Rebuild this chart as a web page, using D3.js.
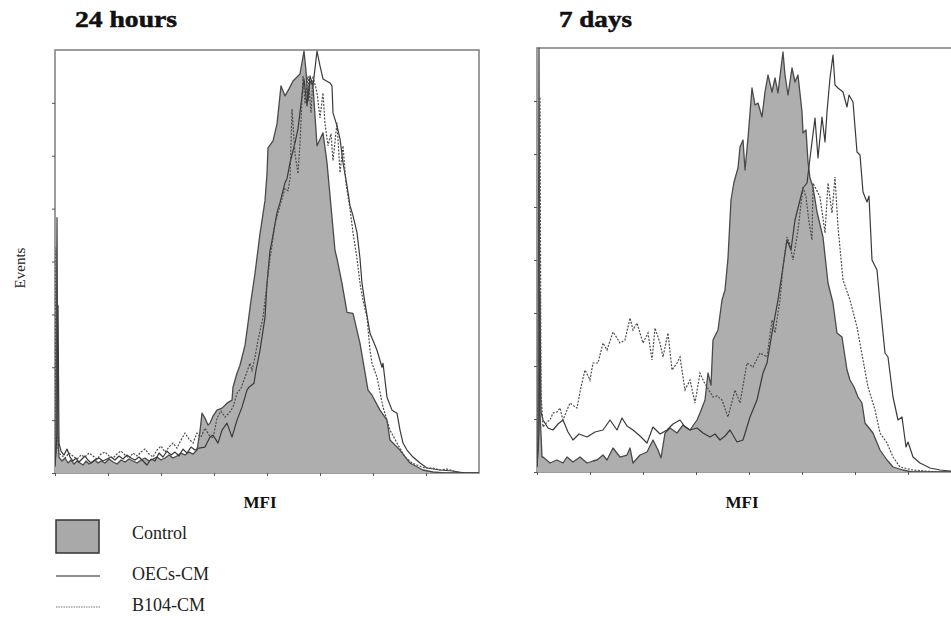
<!DOCTYPE html>
<html>
<head>
<meta charset="utf-8">
<script src="https://cdn.jsdelivr.net/npm/d3@7"></script>
<style>
  html, body { margin: 0; padding: 0; background: #fff; }
  svg { display: block; }
</style>
</head>
<body>
<svg id="chart" width="951" height="617"></svg>
<script>
// Flow cytometry histograms: events per fluorescence channel (MFI axis)

const panelTitles = ["24 hours", "7 days"];
const seriesNames = ["Control", "OECs-CM", "B104-CM"];
const axisLabelX = "MFI";
const axisLabelY = "Events";
const channelMax = 424;   // channel range shown on the MFI axis
const eventsMax = 424;    // events range shown on the y axis
const tickStep = 53;      // unlabeled tick spacing on both axes

// [channel, events] — 24 hours
const control24h = [[0,6],[1,30],[2,256],[3,40],[4,16],[7,12],[10,15],[13,10],[16,13],[19,9],[22,12],[25,10],[28,8],[31,12],[34,9],[37,11],[40,13],[43,10],[46,12],[50,10],[54,14],[58,11],[62,9],[66,13],[70,11],[74,14],[78,12],[82,10],[86,13],[90,15],[94,12],[98,14],[102,16],[106,13],[110,15],[114,18],[118,15],[122,17],[126,20],[130,18],[134,21],[138,19],[142,23],[145,42],[147,60],[150,55],[153,48],[155,50],[158,57],[162,63],[167,65],[172,70],[177,73],[178,86],[182,100],[185,108],[187,116],[190,128],[193,150],[196,173],[200,200],[205,240],[210,273],[212,300],[213,326],[218,333],[222,350],[226,388],[230,378],[234,385],[238,393],[245,400],[249,423],[251,403],[253,373],[255,393],[258,388],[262,328],[268,341],[272,311],[275,278],[280,223],[282,215],[287,190],[292,161],[298,160],[305,130],[313,83],[317,78],[325,63],[332,53],[335,33],[345,23],[355,10],[368,3],[378,1],[390,0],[424,0]];

const oecs24h = [[0,8],[1,20],[2,40],[3,168],[4,30],[6,22],[9,18],[12,24],[15,16],[18,12],[21,15],[24,11],[27,14],[30,17],[33,13],[36,10],[40,13],[44,15],[48,12],[52,14],[56,16],[60,13],[64,17],[68,14],[72,18],[76,15],[80,13],[84,16],[88,12],[92,8],[96,14],[100,12],[104,20],[108,16],[112,22],[116,18],[120,21],[124,17],[128,24],[132,20],[136,26],[140,23],[144,25],[150,26],[155,36],[158,38],[163,30],[167,43],[172,50],[177,36],[182,53],[187,66],[192,83],[194,86],[199,90],[201,103],[205,123],[210,156],[212,190],[215,223],[217,233],[222,261],[225,271],[230,291],[232,295],[235,311],[240,331],[243,345],[247,378],[249,395],[252,368],[255,398],[258,388],[262,423],[265,408],[268,395],[275,391],[277,388],[278,361],[282,348],[285,335],[288,311],[292,288],[295,268],[298,258],[302,241],[305,215],[307,190],[310,170],[315,140],[322,123],[327,106],[328,110],[332,76],[337,63],[342,60],[345,43],[348,30],[352,23],[358,16],[365,10],[372,5],[385,3],[398,2],[410,0],[424,0]];

const b104_24h = [[0,10],[1,226],[2,60],[3,25],[4,20],[6,18],[10,15],[14,20],[18,17],[22,14],[26,18],[30,16],[34,20],[38,17],[42,14],[46,19],[50,21],[54,17],[58,15],[62,19],[66,22],[70,18],[74,15],[78,20],[82,17],[86,21],[90,24],[94,19],[98,16],[102,23],[106,27],[110,21],[114,26],[118,30],[122,25],[126,33],[130,40],[134,34],[138,30],[142,40],[146,36],[150,45],[154,38],[158,35],[162,55],[166,62],[170,56],[174,60],[178,66],[182,80],[186,85],[190,96],[195,110],[197,103],[200,116],[203,133],[208,156],[212,190],[215,215],[217,228],[220,250],[225,268],[230,285],[233,283],[235,295],[237,365],[240,320],[243,300],[245,330],[248,398],[250,370],[253,398],[256,361],[258,398],[262,381],[265,356],[268,381],[270,350],[273,328],[276,340],[278,313],[282,351],[285,301],[288,328],[291,290],[295,265],[298,241],[302,215],[305,190],[308,173],[312,156],[315,123],[317,110],[322,96],[328,66],[332,53],[335,43],[342,30],[350,16],[357,10],[362,8],[370,5],[378,5],[385,3],[392,4],[398,2],[404,0],[424,0]];

// [channel, events] — 7 days
const control7d = [[0,5],[1,30],[2,424],[3,60],[5,15],[6,15],[13,9],[20,12],[26,9],[30,15],[36,10],[43,15],[50,9],[56,11],[60,12],[66,17],[70,12],[76,24],[83,15],[90,17],[93,24],[96,9],[103,17],[110,20],[116,32],[121,22],[124,14],[128,39],[133,44],[140,39],[146,47],[153,42],[160,52],[163,59],[168,72],[171,99],[174,87],[176,132],[181,142],[185,172],[188,182],[191,214],[194,272],[197,290],[201,304],[203,325],[206,332],[208,302],[211,334],[215,384],[218,367],[221,369],[225,355],[228,380],[231,397],[235,380],[238,394],[241,379],[244,404],[246,420],[248,397],[251,377],[255,404],[258,390],[261,397],[265,360],[266,339],[269,342],[271,310],[273,294],[276,285],[280,260],[286,235],[291,189],[296,169],[300,139],[305,135],[310,102],[313,92],[317,85],[321,75],[325,69],[328,49],[336,39],[343,22],[350,12],[356,5],[366,2],[375,0],[424,0]];

const oecs7d = [[0,5],[1,20],[2,40],[3,180],[4,60],[6,52],[11,44],[16,42],[21,48],[26,52],[31,40],[36,32],[42,38],[50,35],[58,40],[66,42],[73,52],[80,42],[85,54],[90,46],[96,42],[103,36],[110,29],[116,45],[123,38],[130,42],[136,48],[143,52],[148,45],[153,42],[160,44],[166,39],[173,35],[178,38],[183,32],[188,36],[193,42],[200,30],[206,32],[213,55],[220,72],[226,99],[230,109],[236,145],[241,172],[246,205],[250,232],[254,222],[258,252],[263,272],[266,284],[270,289],[273,314],[278,354],[281,314],[285,355],[288,330],[290,360],[293,394],[296,417],[298,387],[301,384],[306,380],[310,365],[312,377],[316,370],[320,320],[323,317],[326,280],[330,270],[332,276],[335,212],[340,202],[343,169],[348,119],[351,115],[356,75],[361,52],[365,55],[369,25],[371,30],[376,15],[383,9],[393,4],[403,2],[413,1],[424,0]];

const b104_7d = [[0,5],[1,40],[2,120],[3,375],[4,80],[6,45],[10,50],[13,52],[16,59],[20,60],[23,64],[26,52],[30,62],[33,69],[37,66],[40,64],[44,85],[48,102],[53,92],[56,109],[61,109],[66,129],[70,122],[76,140],[80,134],[83,129],[88,132],[93,154],[96,142],[100,149],[106,129],[111,139],[115,112],[118,144],[123,129],[126,115],[131,139],[135,102],[140,109],[143,115],[148,82],[153,92],[158,69],[163,99],[167,90],[170,85],[176,75],[180,76],[185,72],[191,55],[198,82],[203,69],[210,109],[216,105],[223,119],[230,115],[235,152],[238,139],[243,172],[246,205],[250,235],[253,227],[256,212],[261,242],[266,285],[269,275],[272,250],[275,232],[276,289],[283,275],[288,239],[291,289],[295,259],[298,295],[301,245],[306,192],[313,172],[320,145],[326,112],[331,85],[338,62],[343,39],[350,29],[356,15],[363,5],[376,2],[388,1],[400,0],[424,0]];

const panelSeries = [
  { control: control24h, oecs: oecs24h, b104: b104_24h },
  { control: control7d,  oecs: oecs7d,  b104: b104_7d }
];

// ---- layout & style ----
const serif = "'Liberation Serif', 'Times New Roman', Times, serif";
const panels = [
  { left: 55,  top: 50, width: 424, height: 423, titleX: 75,  titleLen: 102, mfiX: 260 },
  { left: 537, top: 48, width: 424, height: 424, titleX: 559, titleLen: 73,  mfiX: 742 }
];
const fillGray = "#aeaeae";
const lineDark = "#3a3a3a";
const frameGray = "#858585";

const svg = d3.select("#chart");

panels.forEach((p, i) => {
  const data = panelSeries[i];
  const x = d3.scaleLinear().domain([0, channelMax]).range([p.left, p.left + p.width]);
  const y = d3.scaleLinear().domain([0, eventsMax]).range([p.top + p.height, p.top]);
  const g = svg.append("g");

  // frame
  g.append("rect")
    .attr("x", p.left).attr("y", p.top)
    .attr("width", p.width).attr("height", p.height)
    .attr("fill", "#fff")
    .attr("stroke", frameGray).attr("stroke-width", 1.6);

  const clipId = "clip" + i;
  svg.append("clipPath").attr("id", clipId)
    .append("rect").attr("x", p.left).attr("y", p.top - 1)
    .attr("width", p.width).attr("height", p.height + 1);
  const plot = g.append("g").attr("clip-path", `url(#${clipId})`);

  const area = d3.area().x(d => x(d[0])).y0(y(0)).y1(d => y(d[1]));
  const line = d3.line().x(d => x(d[0])).y(d => y(d[1]));

  // Control: filled histogram
  plot.append("path").datum(data.control)
    .attr("d", area).attr("fill", fillGray).attr("stroke", "none");
  plot.append("path").datum(data.control)
    .attr("d", line).attr("fill", "none")
    .attr("stroke", "#4a4a4a").attr("stroke-width", 1.3).attr("stroke-linejoin", "round");

  // OECs-CM: solid outline
  plot.append("path").datum(data.oecs)
    .attr("d", line).attr("fill", "none")
    .attr("stroke", lineDark).attr("stroke-width", 1.2).attr("stroke-linejoin", "round");

  // B104-CM: dotted outline
  plot.append("path").datum(data.b104)
    .attr("d", line).attr("fill", "none")
    .attr("stroke", "#4d4d4d").attr("stroke-width", 1.2)
    .attr("stroke-dasharray", "2,1.4");

  // unlabeled ticks
  const ticks = d3.range(0, channelMax, tickStep);
  const xAxis = d3.axisBottom(x).tickValues(ticks).tickSize(3).tickFormat("");
  const yAxis = d3.axisLeft(y).tickValues(ticks).tickSize(3).tickFormat("");
  const gx = g.append("g").attr("transform", `translate(0,${p.top + p.height})`).call(xAxis);
  const gy = g.append("g").attr("transform", `translate(${p.left},0)`).call(yAxis);
  [gx, gy].forEach(a => {
    a.select(".domain").remove();
    a.selectAll(".tick line").attr("stroke", "#555").attr("stroke-width", 1);
  });

  // title
  g.append("text")
    .attr("x", p.titleX).attr("y", 27)
    .attr("font-family", serif).attr("font-weight", "bold").attr("font-size", 23)
    .attr("textLength", p.titleLen).attr("lengthAdjust", "spacingAndGlyphs")
    .attr("fill", "#111").attr("stroke", "#111").attr("stroke-width", 0.5)
    .text(panelTitles[i]);

  // x-axis label
  g.append("text")
    .attr("x", p.mfiX).attr("y", 508)
    .attr("text-anchor", "middle")
    .attr("font-family", serif).attr("font-weight", "bold").attr("font-size", 17)
    .attr("fill", "#111")
    .text(axisLabelX);
});

// y-axis label
svg.append("text")
  .attr("transform", "translate(25,268) rotate(-90)")
  .attr("text-anchor", "middle")
  .attr("font-family", serif).attr("font-size", 15)
  .attr("fill", "#222")
  .text(axisLabelY);

// legend
const legend = svg.append("g");
legend.append("rect")
  .attr("x", 56).attr("y", 520).attr("width", 43).attr("height", 33)
  .attr("fill", "#a9a9a9").attr("stroke", "#333").attr("stroke-width", 1.5);
legend.append("line")
  .attr("x1", 56).attr("x2", 100).attr("y1", 576).attr("y2", 576)
  .attr("stroke", "#222").attr("stroke-width", 1.1);
legend.append("line")
  .attr("x1", 56).attr("x2", 100).attr("y1", 607).attr("y2", 607)
  .attr("stroke", "#777").attr("stroke-width", 1).attr("stroke-dasharray", "1.5,1");
const legendY = [539, 580, 611];
seriesNames.forEach((name, k) => {
  legend.append("text")
    .attr("x", 132).attr("y", legendY[k])
    .attr("font-family", serif).attr("font-size", 18)
    .attr("fill", "#222")
    .text(name);
});
</script>
</body>
</html>
